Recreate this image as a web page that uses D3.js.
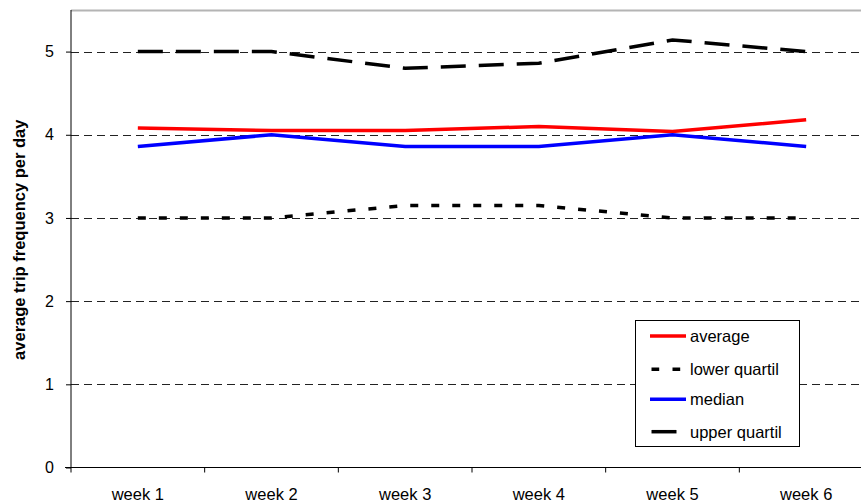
<!DOCTYPE html>
<html>
<head>
<meta charset="utf-8">
<script src="https://cdn.jsdelivr.net/npm/d3@7"></script>
<style>
  html, body { margin: 0; padding: 0; background: #fff; }
  svg { display: block; font-family: "Liberation Sans", Arial, sans-serif; }
</style>
</head>
<body>
<svg id="chart" width="861" height="504"></svg>
<script>
// Weekly trip frequency statistics
const weeks = ["week 1", "week 2", "week 3", "week 4", "week 5", "week 6"];
const average = [4.08, 4.05, 4.05, 4.10, 4.04, 4.18];
const lowerQuartil = [3.0, 3.0, 3.15, 3.15, 3.0, 3.0];
const median = [3.86, 4.0, 3.86, 3.86, 4.0, 3.86];
const upperQuartil = [5.0, 5.0, 4.8, 4.86, 5.14, 5.0];
const yTicks = [0, 1, 2, 3, 4, 5];
const yTitle = "average trip frequency per day";

const series = [
  { name: "average", values: average, color: "#ff0000", dash: null, keyDash: null },
  { name: "lower quartil", values: lowerQuartil, color: "#000000", dash: "8,13", keyDash: "7.7,13.3" },
  { name: "median", values: median, color: "#0000ff", dash: null, keyDash: null },
  { name: "upper quartil", values: upperQuartil, color: "#000000", dash: "25,13", keyDash: "25,13" }
];

const FONT = "Liberation Sans, Arial, sans-serif";
const svg = d3.select("#chart");
const plot = { left: 71, right: 873, top: 10, bottom: 467.5 };

const x = d3.scaleBand().domain(weeks).range([plot.left, plot.right]);
const y = d3.scaleLinear().domain([0, 5.5]).range([plot.bottom, plot.top]);

// top border of plot area
svg.append("line")
  .attr("x1", plot.left).attr("x2", plot.right)
  .attr("y1", plot.top + 0.5).attr("y2", plot.top + 0.5)
  .attr("stroke", "#b4b4b4").attr("stroke-width", 2);

// dashed horizontal gridlines
svg.append("g")
  .selectAll("line")
  .data(yTicks.filter(d => d > 0))
  .join("line")
  .attr("x1", plot.left).attr("x2", plot.right)
  .attr("y1", d => Math.round(y(d)) + 0.5).attr("y2", d => Math.round(y(d)) + 0.5)
  .attr("stroke", "#222").attr("stroke-width", 1)
  .attr("stroke-dasharray", "8,5");

// y axis
const yAxis = svg.append("g")
  .attr("transform", `translate(${plot.left},0)`)
  .call(d3.axisLeft(y).tickValues(yTicks).tickSize(5).tickPadding(12).tickFormat(d3.format("d")));
yAxis.select(".domain").attr("stroke", "#000").attr("d", `M0,${plot.top}V${plot.bottom}`);
yAxis.selectAll(".tick line").attr("stroke", "#000");
yAxis.selectAll(".tick text").attr("font-size", 16).attr("fill", "#000")
  .attr("font-family", FONT);

// x axis with ticks on category boundaries
const xAxis = svg.append("g")
  .attr("transform", `translate(0,${plot.bottom})`)
  .call(d3.axisBottom(x).tickSize(0).tickPadding(0));
xAxis.select(".domain").attr("stroke", "#000").attr("d", `M${plot.left - 6},0H${plot.right}`);
xAxis.selectAll(".tick text")
  .attr("font-size", 16.5).attr("fill", "#000")
  .attr("font-family", FONT)
  .attr("dy", null).attr("y", 32);
xAxis.append("g").selectAll("line")
  .data(weeks)
  .join("line")
  .attr("x1", d => x(d)).attr("x2", d => x(d))
  .attr("y1", 0).attr("y2", 5)
  .attr("stroke", "#000");

// y axis title
svg.append("text")
  .attr("transform", `translate(25,${(plot.top + plot.bottom) / 2 + 1}) rotate(-90)`)
  .attr("text-anchor", "middle")
  .attr("font-size", 16.5).attr("font-weight", "bold")
  .text(yTitle);

// series lines
const line = d3.line()
  .x((d, i) => x(weeks[i]) + x.bandwidth() / 2)
  .y(d => y(d));

svg.append("g")
  .selectAll("path")
  .data(series)
  .join("path")
  .attr("d", d => line(d.values))
  .attr("fill", "none")
  .attr("stroke", d => d.color)
  .attr("stroke-width", 3.5)
  .attr("stroke-dasharray", d => d.dash);

// legend
const legend = svg.append("g").attr("transform", "translate(635.5,320.5)");
legend.append("rect")
  .attr("width", 164).attr("height", 126)
  .attr("fill", "#fff").attr("stroke", "#000");
const rowY = [15.5, 48.8, 78.8, 111.2];
const item = legend.selectAll("g.item")
  .data(series)
  .join("g")
  .attr("class", "item")
  .attr("transform", (d, i) => `translate(0,${rowY[i]})`);
item.append("line")
  .attr("x1", d => d.keyDash ? 16 : 14.5).attr("x2", 50.5)
  .attr("y1", 0).attr("y2", 0)
  .attr("stroke", d => d.color)
  .attr("stroke-width", 3.5)
  .attr("stroke-dasharray", d => d.keyDash);
item.append("text")
  .attr("x", 54.5).attr("y", 6)
  .attr("font-size", 16.5)
  .text(d => d.name);
</script>
</body>
</html>
